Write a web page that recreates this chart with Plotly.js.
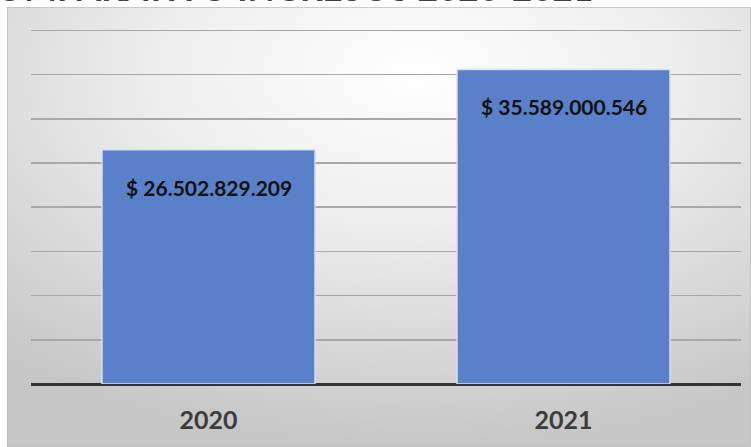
<!DOCTYPE html>
<html>
<head>
<meta charset="utf-8">
<script src="https://cdn.plot.ly/plotly-3.0.1.min.js"></script>
<style>html,body{margin:0;padding:0;background:#fff;}#chart{width:751px;height:447px;}</style>
</head>
<body>
<div id="chart"></div>
<script>
const chartTitle = "COMPARATIVO INGRESOS 2020-2021";
const years = ["2020", "2021"];
const ingresos = [26502829209, 35589000546];

const bgSvg = '<svg xmlns="http://www.w3.org/2000/svg" width="744" height="440" viewBox="0 0 744 440" preserveAspectRatio="none">' +
  '<defs><radialGradient id="g" cx="0.55" cy="0.15" r="0.85" gradientUnits="objectBoundingBox">' +
  '<stop offset="0" stop-color="#ffffff"/><stop offset="0.4" stop-color="#eeeeee"/><stop offset="1" stop-color="#c6c6c6"/>' +
  '</radialGradient></defs><rect x="0" y="0" width="744" height="440" fill="url(#g)" stroke="#bdbdbd" stroke-width="1.5"/></svg>';
const bgUri = 'data:image/svg+xml;charset=utf-8,' + encodeURIComponent(bgSvg);

const fmt = v => '$ ' + Math.round(v).toString().replace(/\B(?=(\d{3})+(?!\d))/g, '.');
const xpos = years.map((_, i) => i);

const trace = {
  type: 'bar',
  x: xpos,
  y: ingresos,
  width: 0.6,
  marker: {color: '#5a80c9', line: {color: 'rgba(215,226,244,0.95)', width: 1.5}},
  hoverinfo: 'skip'
};

const labelAnnotations = years.map((yr, i) => ({
  x: xpos[i], y: ingresos[i], xref: 'x', yref: 'y',
  text: '<b>' + fmt(ingresos[i]) + '</b>',
  showarrow: false, yanchor: 'top', yshift: -23,
  font: {family: 'Lato, sans-serif', size: 21, color: '#111111'}
}));

const layout = {
  width: 751, height: 447,
  margin: {l: 31, r: 10, t: 7, b: 63},
  paper_bgcolor: '#ffffff',
  plot_bgcolor: 'rgba(0,0,0,0)',
  showlegend: false,
  xaxis: {
    range: [-0.5, 1.5],
    tickvals: xpos, ticktext: years,
    showgrid: false, showline: false, zeroline: false,
    ticks: 'outside', ticklen: 14, tickcolor: 'rgba(0,0,0,0)',
    tickfont: {family: 'Lato, sans-serif', size: 25, color: '#3c3c3c', weight: 'bold'},
    fixedrange: true
  },
  yaxis: {
    range: [0, 42.65e9], dtick: 5e9, tick0: 0,
    showticklabels: false, showline: false,
    gridcolor: '#a8a8a8', gridwidth: 1.5,
    zeroline: true, zerolinecolor: '#333333', zerolinewidth: 3,
    fixedrange: true
  },
  images: [{
    source: bgUri, xref: 'paper', yref: 'paper',
    x: -24/710, y: 1, sizex: 744/710, sizey: 440/377,
    xanchor: 'left', yanchor: 'top', sizing: 'stretch', layer: 'below'
  }],
  annotations: labelAnnotations.concat([{
    xref: 'paper', yref: 'paper', x: (595 - 31) / 710, y: 1,
    xanchor: 'right', yanchor: 'bottom', yshift: -3,
    text: '<b>' + chartTitle + '</b>', showarrow: false,
    font: {family: 'Lato, sans-serif', size: 35, color: '#404040'}
  }])
};

Plotly.newPlot('chart', [trace], layout, {displayModeBar: false, staticPlot: true});
</script>
</body>
</html>
